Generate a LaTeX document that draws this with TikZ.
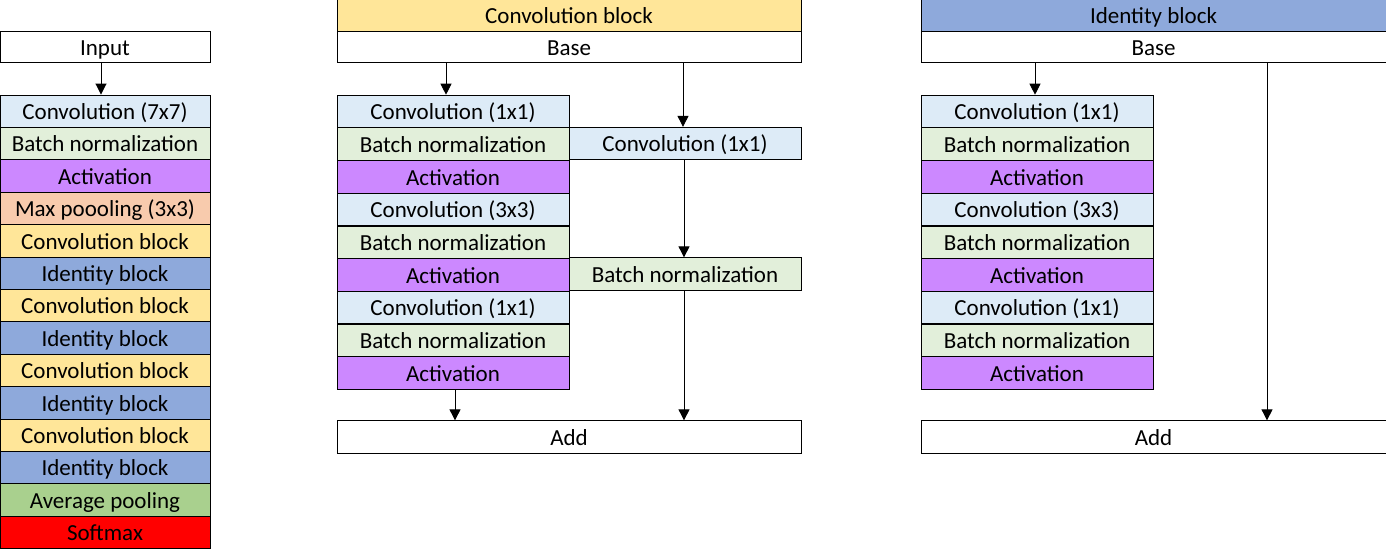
\documentclass[tikz,border=0pt]{standalone}
\usepackage{fontspec}
\setmainfont{Carlito}
\usepackage{tikz}
\usetikzlibrary{arrows.meta}
\definecolor{convc}{HTML}{DDEBF7}
\definecolor{bnc}{HTML}{E2EFDA}
\definecolor{actc}{HTML}{CC88FF}
\definecolor{poolc}{HTML}{F8CBAD}
\definecolor{cblkc}{HTML}{FFE699}
\definecolor{iblkc}{HTML}{8EA9DB}
\definecolor{avgc}{HTML}{A9D08E}
\definecolor{smc}{HTML}{FF0000}
\tikzset{blk/.style={draw,line width=.9pt,inner sep=0pt,minimum height=32.4pt,text height=19pt,text depth=2.5pt,
    font=\fontsize{23}{27}\selectfont},
  narrow/.style={blk,minimum width=232pt},
  wide/.style={blk,minimum width=464pt}}

\begin{document}
\begin{tikzpicture}[x=1pt,y=-1pt,>={Triangle[length=11pt,width=11pt]},line width=.9pt]
\useasboundingbox (0,0) rectangle (1386,549);
% network overview
\node[blk,minimum width=210pt,minimum height=31.5pt] (inp) at (105,47) {Input};
\foreach \lab/\col [count=\i] in {Convolution (7x7)/convc,Batch normalization/bnc,Activation/actc,Max poooling (3x3)/poolc,
  Convolution block/cblkc,Identity block/iblkc,Convolution block/cblkc,Identity block/iblkc,Convolution block/cblkc,
  Identity block/iblkc,Convolution block/cblkc,Identity block/iblkc,Average pooling/avgc,Softmax/smc}
  {\node[blk,minimum width=210pt,fill=\col] (L\i) at (105,{95+32.4*(\i-.5)}) {\lab};}
\draw[->] ([xshift=-4pt]inp.south) -- ([xshift=-4pt]L1.north);
% convolution block
\node[wide,fill=cblkc,minimum height=31.5pt] (chead) at (569,15.5) {Convolution block};
\node[wide,minimum height=31.5pt] (cbase) at (569,47) {Base};
\foreach \lab/\col [count=\i] in {Convolution (1x1)/convc,Batch normalization/bnc,Activation/actc,Convolution (3x3)/convc,
  Batch normalization/bnc,Activation/actc,Convolution (1x1)/convc,Batch normalization/bnc,Activation/actc}
  {\node[narrow,fill=\col] (C\i) at (453,{95+32.7*(\i-.5)}) {\lab};}
\node[narrow,fill=convc] (cs1) at (685,143.5) {Convolution (1x1)};
\node[narrow,fill=bnc] (cs2) at (685,274) {Batch normalization};
\node[wide] (cadd) at (569,437) {Add};
\draw[->] ([xshift=-7pt]cbase.south -| C1.north) -- ([xshift=-7pt]C1.north);
\draw[->] ([xshift=-2pt]cbase.south -| cs1.north) -- ([xshift=-2pt]cs1.north);
\draw[->] ([xshift=-1pt]cs1.south) -- ([xshift=-1pt]cs2.north);
\draw[->] ([xshift=-1pt]cs2.south) -- ([xshift=-1pt]cadd.north -| cs2.south);
\draw[->] ([xshift=2pt]C9.south) -- ([xshift=2pt]cadd.north -| C9.south);
% identity block
\node[wide,fill=iblkc,minimum height=31.5pt,minimum width=465pt] (ihead) at (1153.5,15.5) {Identity block};
\node[wide,minimum height=31.5pt,minimum width=465pt] (ibase) at (1153.5,47) {Base};
\foreach \lab/\col [count=\i] in {Convolution (1x1)/convc,Batch normalization/bnc,Activation/actc,Convolution (3x3)/convc,
  Batch normalization/bnc,Activation/actc,Convolution (1x1)/convc,Batch normalization/bnc,Activation/actc}
  {\node[narrow,fill=\col] (I\i) at (1037,{95+32.7*(\i-.5)}) {\lab};}
\node[wide,minimum width=465pt] (iadd) at (1153.5,437) {Add};
\coordinate (skip) at (1267,63);
\draw[->] ([xshift=-2pt]ibase.south -| I1.north) -- ([xshift=-2pt]I1.north);
\draw[->] (skip) -- (skip |- iadd.north);
\end{tikzpicture}
\end{document}
